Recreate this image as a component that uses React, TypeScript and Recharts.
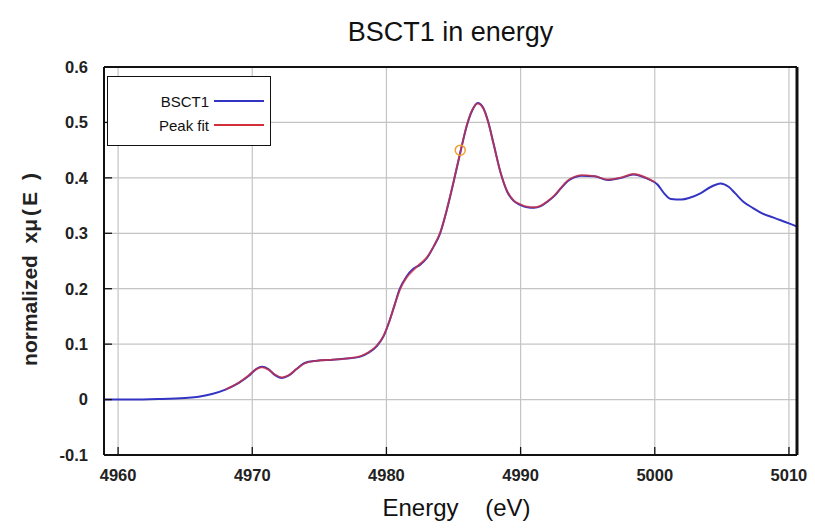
import { LineChart, Line, XAxis, YAxis, CartesianGrid, ReferenceDot } from "recharts";

// BSCT1 measured spectrum
const energy = [
  4959, 4961, 4963, 4965, 4966, 4967, 4968, 4969, 4969.7, 4970.3, 4970.7, 4971.2, 4971.7, 4972.2,
  4972.7, 4973.3, 4973.9, 4974.8, 4976, 4977, 4978, 4978.7, 4979.3, 4979.8, 4980.2, 4980.6, 4981,
  4981.5, 4982, 4982.5, 4983, 4983.5, 4984, 4984.5, 4985, 4985.5, 4986, 4986.4, 4986.8, 4987.2,
  4987.6, 4988, 4988.5, 4989, 4989.5, 4990, 4990.5, 4991, 4991.5, 4992, 4992.5, 4993, 4993.5, 4994,
  4994.5, 4995.5, 4996.5, 4997.5, 4998.4, 4999.4, 5000.2, 5000.7, 5001.2, 5002, 5002.6, 5003.4,
  5004.2, 5004.9, 5005.5, 5006, 5006.6, 5007.3, 5008, 5009, 5010, 5010.6,
];
const mu = [
  0.0, 0.0, 0.001, 0.003, 0.005, 0.01, 0.018, 0.03, 0.042, 0.055, 0.059, 0.055, 0.044, 0.039,
  0.043, 0.055, 0.066, 0.07, 0.072, 0.074, 0.077, 0.085, 0.097, 0.115, 0.14, 0.17, 0.2,
  0.222, 0.236, 0.243, 0.255, 0.275, 0.3, 0.342, 0.392, 0.445, 0.495, 0.522, 0.535, 0.527,
  0.5, 0.46, 0.41, 0.375, 0.358, 0.351, 0.347, 0.346, 0.349, 0.357, 0.367, 0.381, 0.394, 0.401,
  0.404, 0.403, 0.396, 0.4, 0.406, 0.399, 0.388, 0.372, 0.362, 0.361, 0.364, 0.372,
  0.384, 0.39, 0.384, 0.372, 0.357, 0.346, 0.336, 0.327, 0.318, 0.312,
];

// peak fit, covers 4968 - 5000 eV
const fitEnergy = [
  4968, 4969, 4969.7, 4970.3, 4970.7, 4971.2, 4971.7, 4972.2, 4972.7, 4973.3, 4973.9, 4974.8,
  4976, 4977, 4978, 4978.7, 4979.3, 4979.8, 4980.2, 4980.6, 4981, 4981.5, 4982, 4982.5, 4983,
  4983.5, 4984, 4984.5, 4985, 4985.5, 4986, 4986.4, 4986.8, 4987.2, 4987.6, 4988, 4988.5, 4989,
  4989.5, 4990, 4990.5, 4991, 4991.5, 4992, 4992.5, 4993, 4993.5, 4994, 4994.5, 4995.5, 4996.5,
  4997.5, 4998.4, 4999.4, 5000,
];
const fitMu = [
  0.018, 0.031, 0.043, 0.055, 0.058, 0.054, 0.045, 0.04, 0.044, 0.055, 0.065, 0.07,
  0.072, 0.074, 0.078, 0.086, 0.098, 0.116, 0.14, 0.17, 0.198, 0.22, 0.233, 0.245, 0.256,
  0.276, 0.301, 0.343, 0.393, 0.446, 0.496, 0.523, 0.534, 0.526, 0.499, 0.459, 0.41, 0.376,
  0.359, 0.352, 0.348, 0.347, 0.35, 0.358, 0.368, 0.382, 0.395, 0.402, 0.405, 0.403, 0.397,
  0.401, 0.407, 0.4, 0.392,
];

const marker = { energy: 4985.5, mu: 0.45 };

const xTicks = [4960, 4970, 4980, 4990, 5000, 5010];
const yTicks = [-0.1, 0, 0.1, 0.2, 0.3, 0.4, 0.5, 0.6];

const X_DOMAIN: [number, number] = [4958.95, 5010.6];
const Y_DOMAIN: [number, number] = [-0.1, 0.6];

const FONT = "'Liberation Sans Narrow', 'Liberation Sans', Arial, sans-serif";

const dataData = energy.map((e, i) => ({ e, v: mu[i] }));
const fitData = fitEnergy.map((e, i) => ({ e, v: fitMu[i] }));

const tickStyle = { fill: "#222", fontSize: 16.5, fontFamily: FONT, fontWeight: 700 };
const frameLine = { stroke: "#111", strokeWidth: 2 };
const tickMark = { stroke: "#111", strokeWidth: 1.3 };

function LegendBox() {
  const rows = [
    { name: "BSCT1", color: "#3434c4" },
    { name: "Peak fit", color: "#d4303c" },
  ];
  return (
    <div
      style={{
        position: "absolute",
        left: 107,
        top: 76,
        width: 164,
        height: 70,
        border: "1.5px solid #111",
        background: "#fff",
        boxSizing: "border-box",
        paddingTop: 12,
        fontFamily: FONT,
        fontSize: 15,
      }}
    >
      {rows.map((r) => (
        <div key={r.name} style={{ display: "flex", alignItems: "center", height: 24 }}>
          <span style={{ width: 101, textAlign: "right", color: "#111" }}>{r.name}</span>
          <span style={{ width: 50, height: 2, background: r.color, marginLeft: 5 }} />
        </div>
      ))}
    </div>
  );
}

export default function App() {
  return (
    <div style={{ position: "absolute", left: 0, top: 0, width: 815, height: 529, background: "#fff" }}>
      <div
        style={{
          position: "absolute",
          left: 104,
          width: 693,
          top: 17,
          textAlign: "center",
          fontFamily: FONT,
          fontSize: 27,
          color: "#111",
        }}
      >
        BSCT1 in energy
      </div>
      <div
        style={{
          position: "absolute",
          left: 110,
          width: 693,
          top: 494,
          textAlign: "center",
          fontFamily: FONT,
          fontSize: 24,
          color: "#111",
          whiteSpace: "pre",
        }}
      >
        {"Energy    (eV)"}
      </div>
      <div
        style={{
          position: "absolute",
          left: 30,
          top: 268,
          transform: "translate(-50%, -50%) rotate(-90deg)",
          fontFamily: FONT,
          fontSize: 21,
          fontWeight: 700,
          color: "#222",
          whiteSpace: "pre",
        }}
      >
        normalized  x<span style={{ letterSpacing: 3 }}>μ(E )</span>
      </div>
      <LineChart width={815} height={529} margin={{ top: 66, right: 17, bottom: 44, left: 44 }}>
        <CartesianGrid stroke="#c4c4c4" strokeWidth={1.2} />
        <XAxis
          dataKey="e"
          type="number"
          domain={X_DOMAIN}
          ticks={xTicks}
          allowDataOverflow
          height={30}
          tickSize={-8}
          tickMargin={22}
          tick={tickStyle}
          axisLine={frameLine}
          tickLine={tickMark}
        />
        <XAxis
          xAxisId="top"
          orientation="top"
          dataKey="e"
          type="number"
          domain={X_DOMAIN}
          ticks={xTicks}
          allowDataOverflow
          height={1}
          tickSize={-8}
          tick={false}
          axisLine={frameLine}
          tickLine={tickMark}
        />
        <YAxis
          type="number"
          domain={Y_DOMAIN}
          ticks={yTicks}
          allowDataOverflow
          width={60}
          tickSize={-8}
          tickMargin={24}
          tick={tickStyle}
          axisLine={frameLine}
          tickLine={tickMark}
        />
        <YAxis
          yAxisId="right"
          orientation="right"
          type="number"
          domain={Y_DOMAIN}
          ticks={yTicks}
          allowDataOverflow
          width={1}
          tickSize={-8}
          tick={false}
          axisLine={{ stroke: "#111", strokeWidth: 3 }}
          tickLine={tickMark}
        />
        <Line
          data={dataData}
          dataKey="v"
          name="BSCT1"
          type="monotone"
          stroke="#3434c4"
          strokeWidth={2}
          dot={false}
          isAnimationActive={false}
        />
        <Line
          data={fitData}
          dataKey="v"
          name="Peak fit"
          xAxisId="top"
          yAxisId="right"
          type="monotone"
          stroke="#d4303c"
          strokeWidth={1.8}
          strokeOpacity={0.75}
          dot={false}
          isAnimationActive={false}
        />
        <ReferenceDot
          x={marker.energy}
          y={marker.mu}
          r={5}
          fill="none"
          stroke="#f0a030"
          strokeWidth={1.5}
        />
      </LineChart>
      <LegendBox />
    </div>
  );
}
